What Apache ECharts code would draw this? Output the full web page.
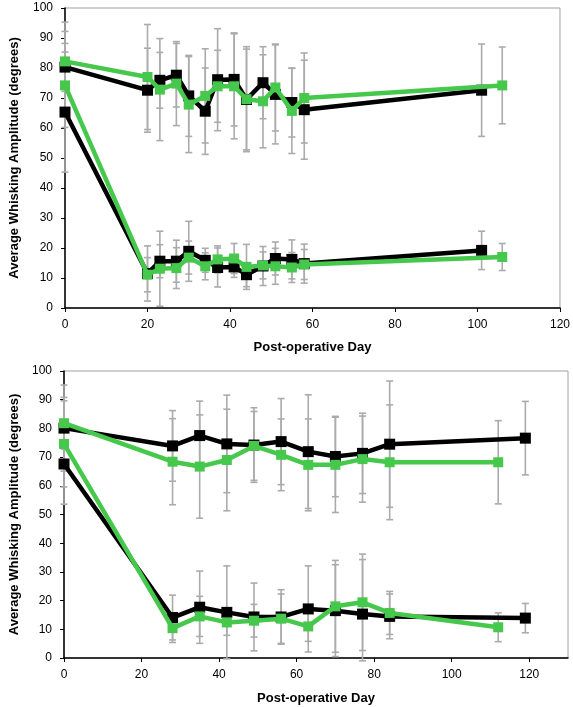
<!DOCTYPE html>
<html><head><meta charset="utf-8">
<script src="https://cdn.jsdelivr.net/npm/echarts@6/dist/echarts.min.js"></script>
<style>html,body{margin:0;padding:0;background:#fff}#c{width:573px;height:707px}</style>
</head><body><div id="c"></div>
<script>
// ---- Top panel ----
const topDaysBlack = [0,20,23,27,30,34,37,41,44,48,51,55,58,101];
const topDaysGreen = [0,20,23,27,30,34,37,41,44,48,51,55,58,106];
const topBlackHigh = [80.3,72.6,75.9,77.6,70.7,65.6,76.1,76.2,69.5,75.1,71.2,68.5,66.1,72.6];
const topBlackHighErr = [15,14,9.3,10.6,13.5,14.4,17,15.5,16.8,12,16.5,11.5,16.5,15.4];
const topGreenHigh = [82.2,77,72.8,74.8,67.8,70.7,73.9,73.9,69.6,68.9,73.5,65.7,70,74.2];
const topGreenHighErr = [10,17.5,17,14,16,15.7,12,17.5,17.5,15.5,14.5,14.2,15,12.8];
const topBlackLow = [65.3,11.5,15.6,15.6,18.9,15.9,13.5,13.7,11.1,14,16.5,16.2,14.8,19.2];
const topBlackLowErr = [20,9.2,5.5,7,10,4,6.5,3.5,4,6.5,5.5,6.5,6.5,6.4];
const topGreenLow = [74.2,11.1,13.1,13.3,16.8,13.9,16.2,16.5,13.7,14.2,13.9,13.5,14.5,17];
const topGreenLowErr = [14,5.7,12.5,6.8,5.5,4.5,4.5,5,7.5,4.5,6,5,5,4.5];

// ---- Bottom panel ----
const botDaysBlack = [0,28,35,42,49,56,63,70,77,84,119];
const botDaysGreen = [0,28,35,42,49,56,63,70,77,84,112];
const botBlackHigh = [80.1,73.9,77.5,74.6,74.2,75.4,71.9,70.2,71.3,74.5,76.6];
const botBlackHighErr = [15,12.3,12,17,13,15,19.8,14,14,22,12.8];
const botGreenHigh = [81.8,68.4,66.7,69,73.9,70.8,67.3,67.3,69.3,68.2,68.2];
const botGreenHighErr = [9,15,18,17.7,12,12.5,16,16.6,15,20,14.5];
const botBlackLow = [67.6,14.1,17.7,15.9,14.3,14.3,17.1,16.5,15.3,14.5,13.9];
const botBlackLowErr = [14,7.8,12.6,16.2,11.8,9.5,15,16,19,7.8,5.1];
const botGreenLow = [74.6,10.4,14.5,12.4,13,13.7,11,18,19.4,15.7,10.7];
const botGreenLowErr = [15,5,7,4.5,5.7,8.6,5.2,16,16.8,7.5,5];

const xTitle = 'Post-operative Day';
const yTitle = 'Average Whisking Amplitude (degrees)';

const GREEN = '#45c84b';
const BLACK = '#000000';
const ERRC = '#ababab';
const FONT = 'Liberation Sans, Arial, sans-serif';

function pts(xs, ys){ return xs.map((x,i)=>[x, ys[i]]); }
function errPts(xs, ys, es){ return xs.map((x,i)=>[x, ys[i]-es[i], ys[i]+es[i]]); }

function errSeries(idx, xs, ys, es){
  return {
    type:'custom', xAxisIndex:idx, yAxisIndex:idx, z:1, clip:false,
    data: errPts(xs, ys, es),
    encode:{x:0, y:[1,2]},
    renderItem: function(params, api){
      const lo = api.coord([api.value(0), Math.max(api.value(1), -1)]);
      const hi = api.coord([api.value(0), api.value(2)]);
      const w = 3.5;
      const st = {stroke: ERRC, lineWidth: 1.6};
      return {type:'group', children:[
        {type:'line', shape:{x1:lo[0], y1:lo[1], x2:hi[0], y2:hi[1]}, style:st},
        {type:'line', shape:{x1:lo[0]-w, y1:lo[1], x2:lo[0]+w, y2:lo[1]}, style:st},
        {type:'line', shape:{x1:hi[0]-w, y1:hi[1], x2:hi[0]+w, y2:hi[1]}, style:st}
      ]};
    }
  };
}
function lineSeries(idx, xs, ys, color, z, size){
  return {
    type:'line', xAxisIndex:idx, yAxisIndex:idx, z:z,
    data: pts(xs, ys), symbol:'rect', symbolSize:size, showSymbol:true,
    lineStyle:{color:color, width:4.5}, itemStyle:{color:color},
    animation:false
  };
}
function xAxis(idx, max, gap){
  return {
    type:'value', gridIndex:idx, min:0, max:max, interval:20,
    name: xTitle, nameLocation:'middle', nameGap:gap,
    nameTextStyle:{fontFamily:FONT, fontWeight:'bold', fontSize:13, color:'#000'},
    axisLine:{show:true, lineStyle:{color:'#000', width:1.5}},
    axisTick:{show:true, length:4, lineStyle:{color:'#000'}},
    axisLabel:{fontFamily:FONT, fontSize:12, color:'#000', margin:11, showMaxLabel: max===120},
    splitLine:{show:false}
  };
}
function yAxis(idx, gap){
  return {
    type:'value', gridIndex:idx, min:0, max:100, interval:10,
    name: yTitle, nameLocation:'middle', nameGap:gap, nameRotate:90,
    nameTextStyle:{fontFamily:FONT, fontWeight:'bold', fontSize:13, color:'#000'},
    axisLine:{show:true, lineStyle:{color:'#000', width:1.5}},
    axisTick:{show:true, length:4, lineStyle:{color:'#000'}},
    axisLabel:{fontFamily:FONT, fontSize:12, color:'#000', margin:12},
    splitLine:{show:false}
  };
}

const chart = echarts.init(document.getElementById('c'), null, {renderer:'canvas'});
chart.setOption({
  animation:false,
  backgroundColor:'#fff',
  grid:[
    {left:58, top:8, width:505, height:300, show:true, borderColor:'#a0a0a0', borderWidth:1},
    {left:61, top:371, width:507, height:287, show:true, borderColor:'#a0a0a0', borderWidth:1}
  ],
  xAxis:[xAxis(0,120,33), xAxis(1,130,34)],
  yAxis:[yAxis(0,44), yAxis(1,43)],
  series:[
    errSeries(0, topDaysBlack, topBlackHigh, topBlackHighErr),
    errSeries(0, topDaysGreen, topGreenHigh, topGreenHighErr),
    errSeries(0, topDaysBlack, topBlackLow, topBlackLowErr),
    errSeries(0, topDaysGreen, topGreenLow, topGreenLowErr),
    lineSeries(0, topDaysBlack, topBlackHigh, BLACK, 3, 11),
    lineSeries(0, topDaysBlack, topBlackLow, BLACK, 3, 11),
    lineSeries(0, topDaysGreen, topGreenHigh, GREEN, 4, 10),
    lineSeries(0, topDaysGreen, topGreenLow, GREEN, 4, 10),
    errSeries(1, botDaysBlack, botBlackHigh, botBlackHighErr),
    errSeries(1, botDaysGreen, botGreenHigh, botGreenHighErr),
    errSeries(1, botDaysBlack, botBlackLow, botBlackLowErr),
    errSeries(1, botDaysGreen, botGreenLow, botGreenLowErr),
    lineSeries(1, botDaysBlack, botBlackHigh, BLACK, 3, 11),
    lineSeries(1, botDaysBlack, botBlackLow, BLACK, 3, 11),
    lineSeries(1, botDaysGreen, botGreenHigh, GREEN, 4, 10),
    lineSeries(1, botDaysGreen, botGreenLow, GREEN, 4, 10)
  ]
});
</script></body></html>
